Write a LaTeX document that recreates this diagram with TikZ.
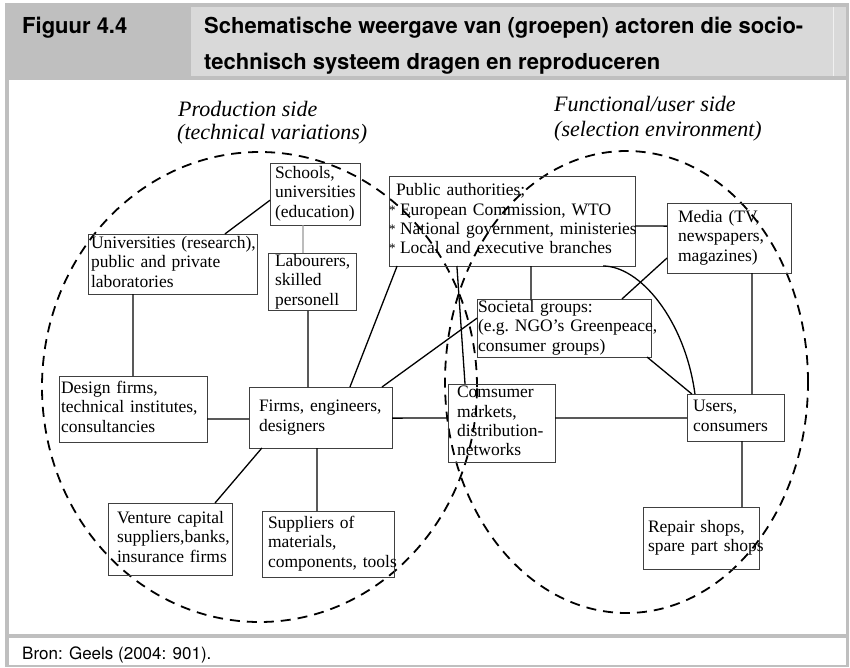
\documentclass[tikz,border=0pt]{standalone}
\usepackage{fontspec}
\setmainfont{Liberation Serif}
\newfontfamily\headfont{TeX Gyre Heros}
\usetikzlibrary{calc}

\definecolor{framegray}{HTML}{BFBFBF}
\definecolor{cellgray}{HTML}{D9D9D9}
\definecolor{boxline}{HTML}{404040}

% lines of an actor box, never broken
\newcommand\actorlines[1]{\begin{tabular}{@{}l@{}}#1\end{tabular}}
% hanging asterisk in front of a list line
\newcommand\bul{\hspace*{-7pt}\makebox[11pt][l]{\raisebox{1pt}{\fontsize{13}{13}\selectfont *}}}

\begin{document}
\begin{tikzpicture}[x=1pt,y=-1pt,
  actor/.style={draw=boxline, line width=1pt, anchor=north west, align=left,
    inner ysep=0pt, outer sep=0pt, font=\fontsize{17.5}{19.3}\selectfont},
  link/.style={line width=1.3pt},
  faintlink/.style={line width=1.1pt, black!40},
  zone/.style={line width=1.8pt, dash pattern=on 10pt off 7pt},
  sidelabel/.style={font=\fontsize{22}{24}\selectfont\itshape, inner sep=0pt, anchor=base west},
  headtext/.style={font=\headfont\bfseries\fontsize{22}{26}\selectfont, inner sep=0pt, anchor=base west},
  foottext/.style={font=\headfont\fontsize{17}{20}\selectfont, inner sep=0pt, anchor=base west},
]
\useasboundingbox (0,0) rectangle (850,667);

% frame, header cells and panels
\fill[white] (0,0) rectangle (850,667);
\fill[framegray] (5,3) rectangle (849,667);
\fill[cellgray] (191,7) rectangle (846,76);
\draw[white!60!cellgray, line width=0.8pt] (833,7) -- (833,76);
\fill[white] (9,80) rectangle (846,634);
\fill[white] (9,638) rectangle (846,665);

\node[headtext] (figno) at (22,33) {Figuur 4.4};
\node[headtext] (title1) at (204,33) {Schematische weergave van (groepen) actoren die socio-};
\node[headtext] (title2) at (204,69) {technisch systeem dragen en reproduceren};
\node[foottext] (source) at (22,659) {Bron: Geels (2004: 901).};

% the two sides
\node[sidelabel] (prodA) at (178,116) {Production side};
\node[sidelabel] (prodB) at (177,139) {(technical variations)};
\node[sidelabel] (funcA) at (554,111) {Functional/user side};
\node[sidelabel] (funcB) at (554,136) {(selection environment)};

\draw[zone] (259.5,387) ellipse [x radius=217.5pt, y radius=235pt];
\draw[zone] (626.5,382) ellipse [x radius=181.5pt, y radius=231pt];

% actors
\node[actor, text width=80pt, inner xsep=5pt, minimum height=62pt] (schools) at (270,163)
  {\actorlines{Schools,\\universities\\(education)}};
\node[actor, text width=163pt, inner xsep=3pt, minimum height=60pt] (univ) at (88,234)
  {\actorlines{Universities (research),\\public and private\\laboratories}};
\node[actor, text width=74pt, inner xsep=7pt, minimum height=56pt] (labour) at (268,253)
  {\actorlines{Labourers,\\skilled\\personell}};
\node[actor, text width=232pt, inner xsep=7pt, minimum height=90pt] (public) at (389,176)
  {\actorlines{Public authorities;\\\bul European Commission, WTO\\\bul National government, ministeries\\\bul Local and executive branches}};
\node[actor, text width=102pt, inner xsep=11pt, minimum height=70pt] (media) at (667,203)
  {\actorlines{Media (TV,\\newspapers,\\magazines)}};
\node[actor, text width=172pt, inner xsep=1pt, minimum height=58pt] (societal) at (477,299)
  {\actorlines{Societal groups:\\(e.g.\ NGO’s Greenpeace,\\consumer groups)}};
\node[actor, text width=144pt, inner xsep=2pt, minimum height=66pt] (design) at (59,376)
  {\actorlines{Design firms,\\technical institutes,\\consultancies}};
\node[actor, text width=123pt, inner xsep=10pt, minimum height=61pt] (firms) at (249,387)
  {\actorlines{Firms, engineers,\\designers}};
\node[actor, text width=106pt, inner xsep=9pt, minimum height=72pt] (venture) at (108,503)
  {\actorlines{Venture capital\\suppliers,banks,\\insurance firms}};
\node[actor, text width=120pt, inner xsep=6pt, minimum height=66pt] (suppliers) at (262,511)
  {\actorlines{Suppliers of\\materials,\\components, tools}};
\node[actor, text width=89pt, inner xsep=9pt, minimum height=78pt] (markets) at (448,384)
  {\actorlines{Comsumer\\markets,\\distribution-\\networks}};
\node[actor, text width=85pt, inner xsep=6pt, minimum height=47pt] (users) at (687,394)
  {\actorlines{Users,\\consumers}};
\node[actor, text width=106pt, inner xsep=5pt, minimum height=62pt] (repair) at (643,507)
  {\actorlines{Repair shops,\\spare part shops}};

% relations
\draw[link] ($(schools.north west)!0.6!(schools.south west)$) -- ($(univ.north west)!0.81!(univ.north east)$);
\draw[faintlink] ($(schools.south west)!0.367!(schools.south east)$) -- ($(labour.north west)!0.398!(labour.north east)$);
\draw[link] ($(univ.south west)!0.266!(univ.south east)$) -- (design.north);
\draw[link] ($(labour.south west)!0.455!(labour.south east)$) -- ($(firms.north west)!0.413!(firms.north east)$);
\draw[link] ($(public.south west)!0.033!(public.south east)$) -- ($(firms.north west)!0.706!(firms.north east)$);
\draw[link] ($(firms.north west)!0.93!(firms.north east)$) -- ($(societal.north west)!0.33!(societal.south west)$);
\draw[link] ($(design.north east)!0.65!(design.south east)$) -- ($(firms.north west)!0.525!(firms.south west)$);
\draw[link] ($(firms.south west)!0.09!(firms.south east)$) -- ($(venture.north west)!0.863!(venture.north east)$);
\draw[link] ($(firms.south west)!0.476!(firms.south east)$) -- ($(suppliers.north west)!0.417!(suppliers.north east)$);
\draw[link] ($(firms.north east)!0.51!(firms.south east)$) -- ($(markets.north west)!0.436!(markets.south west)$);
\draw[link] ($(markets.north east)!0.436!(markets.south east)$) -- ($(users.north west)!0.51!(users.south west)$);
\draw[link] ($(public.south west)!0.276!(public.south east)$) -- ($(markets.north west)!0.159!(markets.north east)$);
\draw[link] ($(public.north east)!0.556!(public.south east)$) -- ($(media.north west)!0.33!(media.south west)$);
\draw[link] ($(public.south west)!0.577!(public.south east)$) -- ($(societal.north west)!0.31!(societal.north east)$);
\draw[link] ($(public.south west)!0.87!(public.south east)$)
  .. controls +(37,0) and +(-10,-74) .. ($(users.north west)!0.082!(users.north east)$);
\draw[link] ($(media.north west)!0.786!(media.south west)$) -- ($(societal.north west)!0.833!(societal.north east)$);
\draw[link] ($(societal.south west)!0.977!(societal.south east)$) -- ($(users.north west)!0.05!(users.north east)$);
\draw[link] ($(media.south west)!0.685!(media.south east)$) -- ($(users.north west)!0.67!(users.north east)$);
\draw[link] ($(users.south west)!0.567!(users.south east)$) -- ($(repair.north west)!0.853!(repair.north east)$);
\end{tikzpicture}
\end{document}
